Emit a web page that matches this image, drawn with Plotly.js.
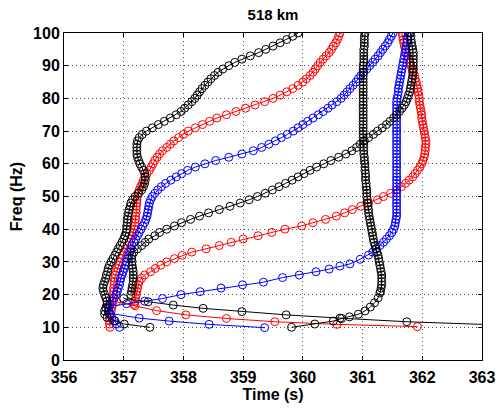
<!DOCTYPE html>
<html>
<head>
<meta charset="utf-8">
<script src="https://cdn.plot.ly/plotly-3.0.1.min.js"></script>
<style>html,body{margin:0;padding:0;background:#fff;}#chart{width:500px;height:410px;}</style>
</head>
<body>
<div id="chart"></div>
<script>
// ---- data (time in s, frequency in Hz) ----
const freq10to100 = [10,11,12,13,14,15,16,17,18,19,20,21,22,23,24,25,26,27,28,29,30,31,32,33,34,35,36,37,38,39,40,41,42,43,44,45,46,47,48,49,50,51,52,53,54,55,56,57,58,59,60,61,62,63,64,65,66,67,68,69,70,71,72,73,74,75,76,77,78,79,80,81,82,83,84,85,86,87,88,89,90,91,92,93,94,95,96,97,98,99,100];

const black1T = [357.44,357.01,356.85,356.72,356.68,356.68,356.70,356.72,356.72,356.70,
 356.68,356.66,356.65,356.66,356.68,356.70,356.71,356.73,356.74,356.76,
 356.79,356.82,356.85,356.88,356.91,356.94,356.97,357.00,357.02,357.04,
 357.05,357.05,357.06,357.06,357.07,357.08,357.09,357.11,357.12,357.15,
 357.19,357.25,357.30,357.33,357.35,357.36,357.36,357.35,357.33,357.30,
 357.27,357.25,357.23,357.22,357.22,357.22,357.22,357.23,357.26,357.31,
 357.38,357.48,357.58,357.68,357.78,357.88,357.96,358.02,358.08,358.14,
 358.19,358.23,358.27,358.31,358.36,358.41,358.46,358.52,358.58,358.66,
 358.76,358.86,358.98,359.12,359.26,359.38,359.50,359.62,359.73,359.83,
 359.92];

const red1T = [356.77,356.76,356.76,356.77,356.78,356.79,356.80,356.81,356.82,356.82,
 356.83,356.83,356.83,356.84,356.84,356.85,356.86,356.88,356.90,356.92,
 356.94,356.96,356.98,357.01,357.03,357.06,357.09,357.12,357.14,357.16,
 357.18,357.19,357.19,357.20,357.20,357.21,357.21,357.21,357.22,357.22,
 357.23,357.24,357.26,357.28,357.31,357.33,357.36,357.39,357.43,357.46,
 357.49,357.52,357.56,357.60,357.65,357.72,357.78,357.84,357.92,358.00,
 358.08,358.20,358.32,358.44,358.56,358.72,358.88,359.04,359.20,359.36,
 359.50,359.62,359.73,359.83,359.92,360.00,360.06,360.12,360.17,360.21,
 360.25,360.29,360.34,360.39,360.44,360.48,360.51,360.55,360.58,360.60,
 360.62];

const blue1T = [356.93,356.88,356.84,356.80,356.77,356.75,356.75,356.77,356.80,356.84,
 356.87,356.89,356.91,356.93,356.94,356.95,356.97,356.99,357.01,357.03,
 357.04,357.06,357.08,357.10,357.12,357.14,357.17,357.20,357.23,357.26,
 357.29,357.32,357.35,357.37,357.39,357.40,357.41,357.42,357.43,357.45,
 357.48,357.52,357.57,357.63,357.70,357.79,357.88,357.97,358.07,358.20,
 358.36,358.54,358.76,358.98,359.17,359.31,359.43,359.54,359.64,359.74,
 359.84,359.92,360.00,360.08,360.17,360.26,360.34,360.42,360.49,360.57,
 360.64,360.69,360.74,360.79,360.84,360.89,360.93,360.97,361.02,361.07,
 361.12,361.17,361.21,361.26,361.30,361.34,361.38,361.42,361.45,361.48,
 361.51];

const black2F = [20,21,22,23,24,25,26,27,28,29,30,31,32,33,34,35,36,37,38,39,40,41,42,43,44,45,46,47,48,49,50,51,52,53,54,55,56,57,58,59,60,61,62,63,64,65,66,67,68,69,70,71,72,73,74,75,76,77,78,79,80,81,82,83,84,85,86,87,88,89,90,91,92,93,94,95,96,97,98,99,100];
const black2T = [357.12,357.13,357.14,357.15,357.16,357.16,357.16,357.16,357.15,357.14,
 357.14,357.13,357.14,357.17,357.23,357.30,357.36,357.42,357.52,357.60,
 357.72,357.85,357.97,358.12,358.27,358.42,358.60,358.78,358.95,359.10,
 359.24,359.37,359.49,359.60,359.71,359.82,359.92,360.02,360.12,360.23,
 360.35,360.47,360.60,360.72,360.82,360.90,360.96,361.03,361.10,361.18,
 361.25,361.33,361.40,361.46,361.52,361.57,361.62,361.66,361.70,361.73,
 361.75,361.77,361.79,361.80,361.81,361.82,361.83,361.84,361.84,361.85,
 361.85,361.85,361.85,361.85,361.85,361.84,361.83,361.82,361.81,361.81,
 361.80];

const black3F = [10.0,11.0,11.9,12.7,13.2,14.0,15.0,16.2,17.5,19.0,20.5,
 21,22,23,24,25,26,27,28,29,30,31,32,33,34,35,36,37,38,39,40,41,42,43,44,45,46,47,48,49,50,51,52,53,54,55,56,57,58,59,60,61,62,63,64,65,66,67,68,69,70,71,72,73,74,75,76,77,78,79,80,81,82,83,84,85,86,87,88,89,90,91,92,93,94,95,96,97,98,99,100];
const black3T = [359.81,360.20,360.51,360.65,360.78,360.93,361.04,361.13,361.20,361.26,361.29,
 361.30,361.31,361.32,361.32,361.32,361.32,361.31,361.30,361.29,
 361.28,361.27,361.26,361.24,361.22,361.21,361.19,361.18,361.17,361.16,
 361.15,361.14,361.13,361.12,361.11,361.10,361.10,361.09,361.08,361.08,
 361.07,361.07,361.07,361.06,361.06,361.05,361.05,361.05,361.04,361.04,
 361.04,361.03,361.03,361.02,361.02,361.02,361.02,361.01,361.01,361.01,
 361.01,361.01,361.01,361.01,361.01,361.01,361.01,361.01,361.01,361.01,
 361.01,361.01,361.01,361.01,361.01,361.01,361.01,361.01,361.01,361.01,
 361.01,361.02,361.02,361.02,361.02,361.02,361.03,361.03,361.03,361.03,
 361.04];

const red2F = [17,18,19,20,21,22,23,24,25,26,27,28,29,30,31,32,33,34,35,36,37,38,39,40,41,42,43,44,45,46,47,48,49,50,51,52,53,54,55,56,57,58,59,60,61,62,63,64,65,66,67,68,69,70,71,72,73,74,75,76,77,78,79,80,81,82,83,84,85,86,87,88,89,90,91,92,93,94,95,96,97,98,99,100];
const red2T = [357.17,357.19,357.20,
 357.21,357.22,357.23,357.24,357.26,357.30,357.35,357.45,357.53,357.62,
 357.72,357.85,357.98,358.14,358.38,358.60,358.80,359.00,359.25,359.48,
 359.70,359.98,360.17,360.38,360.56,360.70,360.83,360.97,361.10,361.25,
 361.35,361.47,361.57,361.65,361.72,361.78,361.84,361.88,361.92,361.96,
 361.99,362.01,362.03,362.04,362.05,362.05,362.06,362.06,362.05,362.04,
 362.03,362.02,362.01,362.00,361.99,361.99,361.98,361.97,361.96,361.95,
 361.95,361.94,361.93,361.92,361.91,361.90,361.88,361.87,361.85,361.83,
 361.81,361.79,361.77,361.75,361.73,361.72,361.70,361.69,361.68,361.67,
 361.66];

const blue2F = [16.3,17.2,18.0,18.8,20.0,20.9,22.0,23.0,23.8,25.2,26.0,27.0,27.8,28.7,29.4,30.8,32.1,
 33,34,35,36,37,38,39,40,41,42,43,44,45,46,47,48,49,50,51,52,53,54,55,56,57,58,59,60,61,62,63,64,65,66,67,68,69,70,71,72,73,74,75,76,77,78,79,80,81,82,83,84,85,86,87,88,89,90,91,92,93,94,95,96,97,98,99,100];
const blue2T = [356.74,357.05,357.35,357.65,357.96,358.28,358.63,358.99,359.34,359.66,359.94,360.22,360.44,360.62,360.79,360.96,361.10,
 361.17,361.23,361.29,361.35,361.40,361.45,361.49,
 361.52,361.54,361.55,361.56,361.57,361.57,361.57,361.57,361.57,361.57,
 361.57,361.57,361.57,361.57,361.57,361.57,361.57,361.57,361.57,361.57,
 361.57,361.57,361.57,361.57,361.57,361.57,361.57,361.57,361.57,361.57,
 361.57,361.57,361.57,361.57,361.57,361.57,361.57,361.57,361.57,361.57,
 361.58,361.59,361.60,361.60,361.61,361.62,361.63,361.64,361.65,361.66,
 361.67,361.68,361.69,361.70,361.71,361.72,361.73,361.74,361.75,361.76,
 361.77];

const black4F = [18.8,17.8,16.8,15.8,14.8,13.8,12.8,11.7,10.8,10.0];
const black4T = [357.00,357.41,357.83,358.33,358.98,359.72,360.62,361.74,363.15,364.90];

const red3F = [17.8,16.6,15.1,13.8,12.7,11.7,10.9,10.2];
const red3T = [356.88,357.19,357.55,358.04,358.72,359.53,360.57,361.92];

const blue3F = [14.3,12.8,11.9,10.9,9.9];
const blue3T = [356.77,357.26,357.76,358.43,359.36];

const xTicks = [356,357,358,359,360,361,362,363];
const yTicks = [0,10,20,30,40,50,60,70,80,90,100];

// ---- traces ----
const RED = '#ff0000', BLUE = '#0000ff', BLACK = '#000000';
function tr(x, y, color) {
  return {
    x: x, y: y, type: 'scatter', mode: 'lines+markers',
    line: {color: color, width: 1},
    marker: {symbol: 'circle-open', size: 8, color: color, line: {width: 1, color: color}},
    showlegend: false, hoverinfo: 'skip'
  };
}
const data = [
  tr(red1T, freq10to100, RED),
  tr(red2T, red2F, RED),
  tr(red3T, red3F, RED),
  tr(blue1T, freq10to100, BLUE),
  tr(blue2T, blue2F, BLUE),
  tr(blue3T, blue3F, BLUE),
  tr(black1T, freq10to100, BLACK),
  tr(black2T, black2F, BLACK),
  tr(black3T, black3F, BLACK),
  tr(black4T, black4F, BLACK)
];

const FONT = 'Liberation Sans, Arial, Helvetica, sans-serif';
const axisCommon = {
  showline: true, linecolor: '#000', linewidth: 1, mirror: 'ticks',
  ticks: 'inside', ticklen: 4, tickcolor: '#000', tickwidth: 1,
  showgrid: true, gridcolor: '#555', gridwidth: 1, griddash: '1px,3px',
  zeroline: false,
  tickfont: {family: FONT, size: 16, color: '#000', weight: 'bold'}
};

const layout = {
  width: 500, height: 410,
  margin: {l: 64, r: 18, t: 33, b: 50},
  paper_bgcolor: '#fff', plot_bgcolor: '#fff',
  title: {text: '518 km', font: {family: FONT, size: 15, color: '#000', weight: 'bold'},
          x: 0.546, xanchor: 'center', y: 0.965, yanchor: 'middle'},
  xaxis: Object.assign({}, axisCommon, {
    range: [356, 363], tickvals: xTicks, ticktext: xTicks.map(String),
    ticklabelstandoff: 3,
    title: {text: 'Time (s)', font: {family: FONT, size: 16, color: '#000', weight: 'bold'}, standoff: 2}
  }),
  yaxis: Object.assign({}, axisCommon, {
    range: [0, 100], tickvals: yTicks, ticktext: yTicks.map(String),
    title: {text: 'Freq (Hz)', font: {family: FONT, size: 16, color: '#000', weight: 'bold'}, standoff: 6}
  })
};

Plotly.newPlot('chart', data, layout, {displayModeBar: false, staticPlot: true});
</script>
</body>
</html>
